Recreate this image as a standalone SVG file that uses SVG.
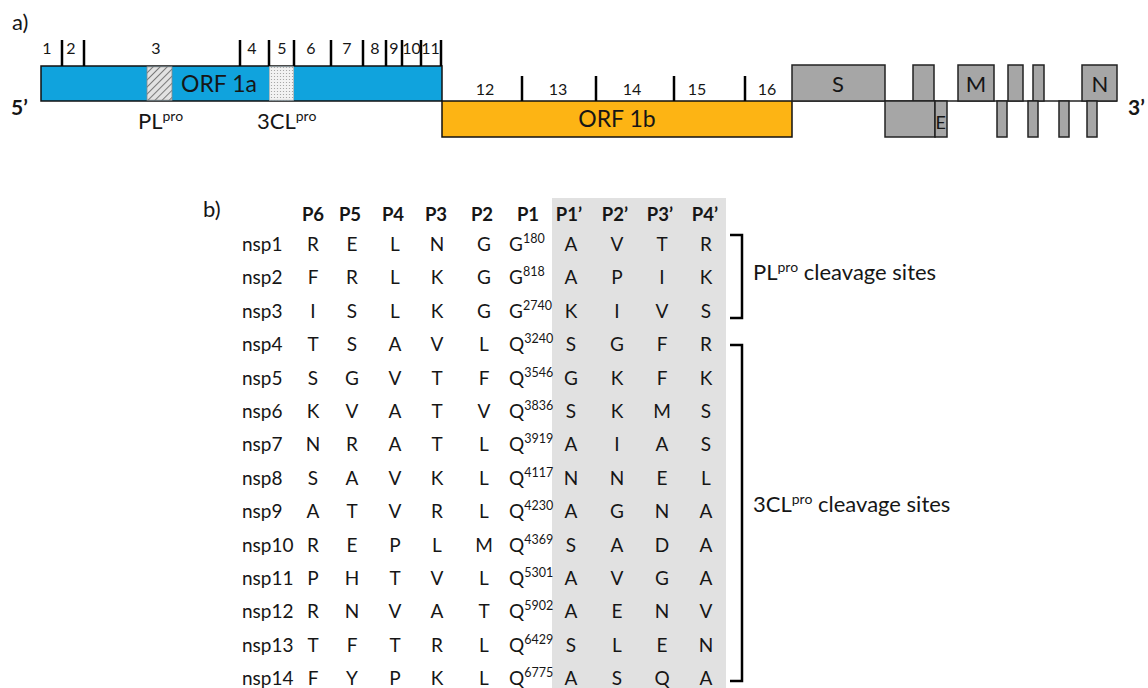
<svg xmlns="http://www.w3.org/2000/svg" width="1148" height="688" viewBox="0 0 1148 688">
  <defs>
    <pattern id="hatch" width="5" height="5" patternUnits="userSpaceOnUse" patternTransform="rotate(45)">
      <rect width="5" height="5" fill="#e2e2e2"/>
      <line x1="0" y1="0" x2="0" y2="5" stroke="#7a7a7a" stroke-width="2"/>
    </pattern>
    <pattern id="stipple" width="3" height="3" patternUnits="userSpaceOnUse">
      <rect width="3" height="3" fill="#f2f2f2"/>
      <circle cx="1.5" cy="1.5" r="0.6" fill="#9a9a9a"/>
    </pattern>
  </defs>
  <style>
    text { font-family: Lato, "Open Sans", "Liberation Sans", sans-serif; fill: #161616; }
    .panel { font-size: 22px; }
    .end { font-size: 21px; font-weight: bold; }
    .tick { stroke: #000; stroke-width: 2.5; }
    .num { font-size: 16px; text-anchor: middle; }
    .orf { font-size: 23px; text-anchor: middle; }
    .gene { fill: #a6a6a6; stroke: #222; stroke-width: 1.5; }
    .glabel { font-size: 22px; text-anchor: middle; }
    .hdr { font-size: 18.5px; font-weight: bold; text-anchor: middle; }
    .aa { font-size: 19px; text-anchor: middle; }
    .nsp { font-size: 19px; }
    .p1 { font-size: 19px; }
    .sup { font-size: 12.5px; }
    .brk { fill: none; stroke: #000; stroke-width: 2.5; }
    .note { font-size: 22px; }
  </style>

  <!-- panel a: genome organisation -->
  <g id="panel-a">
    <text class="panel" x="12" y="30">a)</text>
    <text class="end" x="11" y="115">5’</text>
    <text class="end" x="1128" y="115">3’</text>

    <g id="orf1a">
      <rect x="41" y="66" width="401" height="35" fill="#10a3dd" stroke="#111" stroke-width="1.5"/>
      <rect id="plpro-domain" x="147" y="66.8" width="25" height="33.4" fill="url(#hatch)" stroke="#888" stroke-width="0.8"/>
      <rect id="3clpro-domain" x="269.5" y="66.8" width="24" height="33.4" fill="url(#stipple)" stroke="#bbb" stroke-width="0.8"/>
      <text class="orf" x="219" y="92">ORF 1a</text>
      <text x="138" y="129" font-size="22">PL<tspan font-size="14" dy="-8">pro</tspan></text>
      <text x="257" y="129" font-size="22">3CL<tspan font-size="14" dy="-8">pro</tspan></text>
      <g id="nsp-ticks-1a">
        <line class="tick" x1="62" y1="40" x2="62" y2="66"/>
        <line class="tick" x1="84" y1="40" x2="84" y2="66"/>
        <line class="tick" x1="240" y1="40" x2="240" y2="66"/>
        <line class="tick" x1="269" y1="40" x2="269" y2="66"/>
        <line class="tick" x1="294" y1="40" x2="294" y2="66"/>
        <line class="tick" x1="331" y1="40" x2="331" y2="66"/>
        <line class="tick" x1="363" y1="40" x2="363" y2="66"/>
        <line class="tick" x1="386" y1="40" x2="386" y2="66"/>
        <line class="tick" x1="402" y1="40" x2="402" y2="66"/>
        <line class="tick" x1="421" y1="40" x2="421" y2="66"/>
        <line class="tick" x1="441" y1="40" x2="441" y2="66"/>
      </g>
      <g id="nsp-numbers-1a">
        <text class="num" x="47" y="54">1</text>
        <text class="num" x="71" y="54">2</text>
        <text class="num" x="156" y="54">3</text>
        <text class="num" x="252" y="54">4</text>
        <text class="num" x="282" y="54">5</text>
        <text class="num" x="311" y="54">6</text>
        <text class="num" x="347" y="54">7</text>
        <text class="num" x="375" y="54">8</text>
        <text class="num" x="394" y="54">9</text>
        <text class="num" x="411.5" y="54">10</text>
        <text class="num" x="430.5" y="54">11</text>
      </g>
    </g>

    <g id="orf1b">
      <rect x="442" y="101" width="350" height="36" fill="#fdb414" stroke="#111" stroke-width="1.5"/>
      <text class="orf" x="617" y="127">ORF 1b</text>
      <g id="nsp-ticks-1b">
        <line class="tick" x1="522" y1="76" x2="522" y2="101"/>
        <line class="tick" x1="596" y1="76" x2="596" y2="101"/>
        <line class="tick" x1="674" y1="76" x2="674" y2="101"/>
        <line class="tick" x1="745" y1="76" x2="745" y2="101"/>
      </g>
      <g id="nsp-numbers-1b">
        <text class="num" x="485" y="95">12</text>
        <text class="num" x="558" y="95">13</text>
        <text class="num" x="632" y="95">14</text>
        <text class="num" x="697" y="95">15</text>
        <text class="num" x="767" y="95">16</text>
      </g>
    </g>

    <g id="structural-genes">
      <line x1="792" y1="101" x2="1117" y2="101" stroke="#222" stroke-width="1.5"/>
      <rect id="gene-S" class="gene" x="792" y="65" width="93" height="36"/>
      <rect class="gene" x="913" y="65" width="21" height="36"/>
      <rect id="gene-M" class="gene" x="958" y="65" width="36" height="36"/>
      <rect class="gene" x="1008" y="65" width="15" height="36"/>
      <rect class="gene" x="1033" y="65" width="11" height="36"/>
      <rect id="gene-N" class="gene" x="1082" y="65" width="35" height="36"/>
      <rect class="gene" x="885" y="101" width="50" height="36"/>
      <rect id="gene-E" class="gene" x="935" y="101" width="12" height="36"/>
      <rect class="gene" x="997" y="101" width="10" height="36"/>
      <rect class="gene" x="1028" y="101" width="10" height="36"/>
      <rect class="gene" x="1059" y="101" width="10" height="36"/>
      <rect class="gene" x="1087" y="101" width="10" height="36"/>
      <text class="glabel" x="838" y="92">S</text>
      <text class="glabel" x="976" y="92">M</text>
      <text class="glabel" x="1100" y="92">N</text>
      <text x="935.5" y="129" font-size="18">E</text>
    </g>
  </g>

  <!-- panel b: cleavage-site table -->
  <g id="panel-b">
    <text class="panel" x="203" y="217">b)</text>
    <rect id="prime-side" x="552" y="198" width="174" height="490" fill="#e1e1e1"/>

    <g id="header">
      <text class="hdr" x="313" y="221">P6</text>
      <text class="hdr" x="350" y="221">P5</text>
      <text class="hdr" x="393" y="221">P4</text>
      <text class="hdr" x="436" y="221">P3</text>
      <text class="hdr" x="482" y="221">P2</text>
      <text class="hdr" x="528" y="221">P1</text>
      <text class="hdr" x="569" y="221">P1’</text>
      <text class="hdr" x="615" y="221">P2’</text>
      <text class="hdr" x="660" y="221">P3’</text>
      <text class="hdr" x="705" y="221">P4’</text>
    </g>

    <g id="rows">
      <g id="row-nsp1" transform="translate(0,251)">
        <text class="nsp" x="242" y="0">nsp1</text>
        <text class="aa" x="313" y="0">R</text><text class="aa" x="352" y="0">E</text><text class="aa" x="395" y="0">L</text><text class="aa" x="437" y="0">N</text><text class="aa" x="484" y="0">G</text>
        <text class="p1" x="509" y="0">G<tspan class="sup" dy="-8">180</tspan></text>
        <text class="aa" x="571" y="0">A</text><text class="aa" x="617" y="0">V</text><text class="aa" x="662" y="0">T</text><text class="aa" x="706" y="0">R</text>
      </g>
      <g id="row-nsp2" transform="translate(0,284.4)">
        <text class="nsp" x="242" y="0">nsp2</text>
        <text class="aa" x="313" y="0">F</text><text class="aa" x="352" y="0">R</text><text class="aa" x="395" y="0">L</text><text class="aa" x="437" y="0">K</text><text class="aa" x="484" y="0">G</text>
        <text class="p1" x="509" y="0">G<tspan class="sup" dy="-8">818</tspan></text>
        <text class="aa" x="571" y="0">A</text><text class="aa" x="617" y="0">P</text><text class="aa" x="662" y="0">I</text><text class="aa" x="706" y="0">K</text>
      </g>
      <g id="row-nsp3" transform="translate(0,317.8)">
        <text class="nsp" x="242" y="0">nsp3</text>
        <text class="aa" x="313" y="0">I</text><text class="aa" x="352" y="0">S</text><text class="aa" x="395" y="0">L</text><text class="aa" x="437" y="0">K</text><text class="aa" x="484" y="0">G</text>
        <text class="p1" x="509" y="0">G<tspan class="sup" dy="-8">2740</tspan></text>
        <text class="aa" x="571" y="0">K</text><text class="aa" x="617" y="0">I</text><text class="aa" x="662" y="0">V</text><text class="aa" x="706" y="0">S</text>
      </g>
      <g id="row-nsp4" transform="translate(0,351.2)">
        <text class="nsp" x="242" y="0">nsp4</text>
        <text class="aa" x="313" y="0">T</text><text class="aa" x="352" y="0">S</text><text class="aa" x="395" y="0">A</text><text class="aa" x="437" y="0">V</text><text class="aa" x="484" y="0">L</text>
        <text class="p1" x="509" y="0">Q<tspan class="sup" dy="-8">3240</tspan></text>
        <text class="aa" x="571" y="0">S</text><text class="aa" x="617" y="0">G</text><text class="aa" x="662" y="0">F</text><text class="aa" x="706" y="0">R</text>
      </g>
      <g id="row-nsp5" transform="translate(0,384.6)">
        <text class="nsp" x="242" y="0">nsp5</text>
        <text class="aa" x="313" y="0">S</text><text class="aa" x="352" y="0">G</text><text class="aa" x="395" y="0">V</text><text class="aa" x="437" y="0">T</text><text class="aa" x="484" y="0">F</text>
        <text class="p1" x="509" y="0">Q<tspan class="sup" dy="-8">3546</tspan></text>
        <text class="aa" x="571" y="0">G</text><text class="aa" x="617" y="0">K</text><text class="aa" x="662" y="0">F</text><text class="aa" x="706" y="0">K</text>
      </g>
      <g id="row-nsp6" transform="translate(0,418)">
        <text class="nsp" x="242" y="0">nsp6</text>
        <text class="aa" x="313" y="0">K</text><text class="aa" x="352" y="0">V</text><text class="aa" x="395" y="0">A</text><text class="aa" x="437" y="0">T</text><text class="aa" x="484" y="0">V</text>
        <text class="p1" x="509" y="0">Q<tspan class="sup" dy="-8">3836</tspan></text>
        <text class="aa" x="571" y="0">S</text><text class="aa" x="617" y="0">K</text><text class="aa" x="662" y="0">M</text><text class="aa" x="706" y="0">S</text>
      </g>
      <g id="row-nsp7" transform="translate(0,451.4)">
        <text class="nsp" x="242" y="0">nsp7</text>
        <text class="aa" x="313" y="0">N</text><text class="aa" x="352" y="0">R</text><text class="aa" x="395" y="0">A</text><text class="aa" x="437" y="0">T</text><text class="aa" x="484" y="0">L</text>
        <text class="p1" x="509" y="0">Q<tspan class="sup" dy="-8">3919</tspan></text>
        <text class="aa" x="571" y="0">A</text><text class="aa" x="617" y="0">I</text><text class="aa" x="662" y="0">A</text><text class="aa" x="706" y="0">S</text>
      </g>
      <g id="row-nsp8" transform="translate(0,484.8)">
        <text class="nsp" x="242" y="0">nsp8</text>
        <text class="aa" x="313" y="0">S</text><text class="aa" x="352" y="0">A</text><text class="aa" x="395" y="0">V</text><text class="aa" x="437" y="0">K</text><text class="aa" x="484" y="0">L</text>
        <text class="p1" x="509" y="0">Q<tspan class="sup" dy="-8">4117</tspan></text>
        <text class="aa" x="571" y="0">N</text><text class="aa" x="617" y="0">N</text><text class="aa" x="662" y="0">E</text><text class="aa" x="706" y="0">L</text>
      </g>
      <g id="row-nsp9" transform="translate(0,518.2)">
        <text class="nsp" x="242" y="0">nsp9</text>
        <text class="aa" x="313" y="0">A</text><text class="aa" x="352" y="0">T</text><text class="aa" x="395" y="0">V</text><text class="aa" x="437" y="0">R</text><text class="aa" x="484" y="0">L</text>
        <text class="p1" x="509" y="0">Q<tspan class="sup" dy="-8">4230</tspan></text>
        <text class="aa" x="571" y="0">A</text><text class="aa" x="617" y="0">G</text><text class="aa" x="662" y="0">N</text><text class="aa" x="706" y="0">A</text>
      </g>
      <g id="row-nsp10" transform="translate(0,551.6)">
        <text class="nsp" x="242" y="0">nsp10</text>
        <text class="aa" x="313" y="0">R</text><text class="aa" x="352" y="0">E</text><text class="aa" x="395" y="0">P</text><text class="aa" x="437" y="0">L</text><text class="aa" x="484" y="0">M</text>
        <text class="p1" x="509" y="0">Q<tspan class="sup" dy="-8">4369</tspan></text>
        <text class="aa" x="571" y="0">S</text><text class="aa" x="617" y="0">A</text><text class="aa" x="662" y="0">D</text><text class="aa" x="706" y="0">A</text>
      </g>
      <g id="row-nsp11" transform="translate(0,585)">
        <text class="nsp" x="242" y="0">nsp11</text>
        <text class="aa" x="313" y="0">P</text><text class="aa" x="352" y="0">H</text><text class="aa" x="395" y="0">T</text><text class="aa" x="437" y="0">V</text><text class="aa" x="484" y="0">L</text>
        <text class="p1" x="509" y="0">Q<tspan class="sup" dy="-8">5301</tspan></text>
        <text class="aa" x="571" y="0">A</text><text class="aa" x="617" y="0">V</text><text class="aa" x="662" y="0">G</text><text class="aa" x="706" y="0">A</text>
      </g>
      <g id="row-nsp12" transform="translate(0,618.4)">
        <text class="nsp" x="242" y="0">nsp12</text>
        <text class="aa" x="313" y="0">R</text><text class="aa" x="352" y="0">N</text><text class="aa" x="395" y="0">V</text><text class="aa" x="437" y="0">A</text><text class="aa" x="484" y="0">T</text>
        <text class="p1" x="509" y="0">Q<tspan class="sup" dy="-8">5902</tspan></text>
        <text class="aa" x="571" y="0">A</text><text class="aa" x="617" y="0">E</text><text class="aa" x="662" y="0">N</text><text class="aa" x="706" y="0">V</text>
      </g>
      <g id="row-nsp13" transform="translate(0,651.8)">
        <text class="nsp" x="242" y="0">nsp13</text>
        <text class="aa" x="313" y="0">T</text><text class="aa" x="352" y="0">F</text><text class="aa" x="395" y="0">T</text><text class="aa" x="437" y="0">R</text><text class="aa" x="484" y="0">L</text>
        <text class="p1" x="509" y="0">Q<tspan class="sup" dy="-8">6429</tspan></text>
        <text class="aa" x="571" y="0">S</text><text class="aa" x="617" y="0">L</text><text class="aa" x="662" y="0">E</text><text class="aa" x="706" y="0">N</text>
      </g>
      <g id="row-nsp14" transform="translate(0,685.2)">
        <text class="nsp" x="242" y="0">nsp14</text>
        <text class="aa" x="313" y="0">F</text><text class="aa" x="352" y="0">Y</text><text class="aa" x="395" y="0">P</text><text class="aa" x="437" y="0">K</text><text class="aa" x="484" y="0">L</text>
        <text class="p1" x="509" y="0">Q<tspan class="sup" dy="-8">6775</tspan></text>
        <text class="aa" x="571" y="0">A</text><text class="aa" x="617" y="0">S</text><text class="aa" x="662" y="0">Q</text><text class="aa" x="706" y="0">A</text>
      </g>
    </g>

    <g id="brackets">
      <path class="brk" d="M730,235 H742 V318 H730"/>
      <path class="brk" d="M730,345 H742 V681 H730"/>
    </g>
    <g id="bracket-labels">
      <text class="note" x="753" y="280">PL<tspan font-size="14" dy="-8">pro</tspan><tspan dy="8"> cleavage sites</tspan></text>
      <text class="note" x="753" y="512">3CL<tspan font-size="14" dy="-8">pro</tspan><tspan dy="8"> cleavage sites</tspan></text>
    </g>
  </g>
</svg>
